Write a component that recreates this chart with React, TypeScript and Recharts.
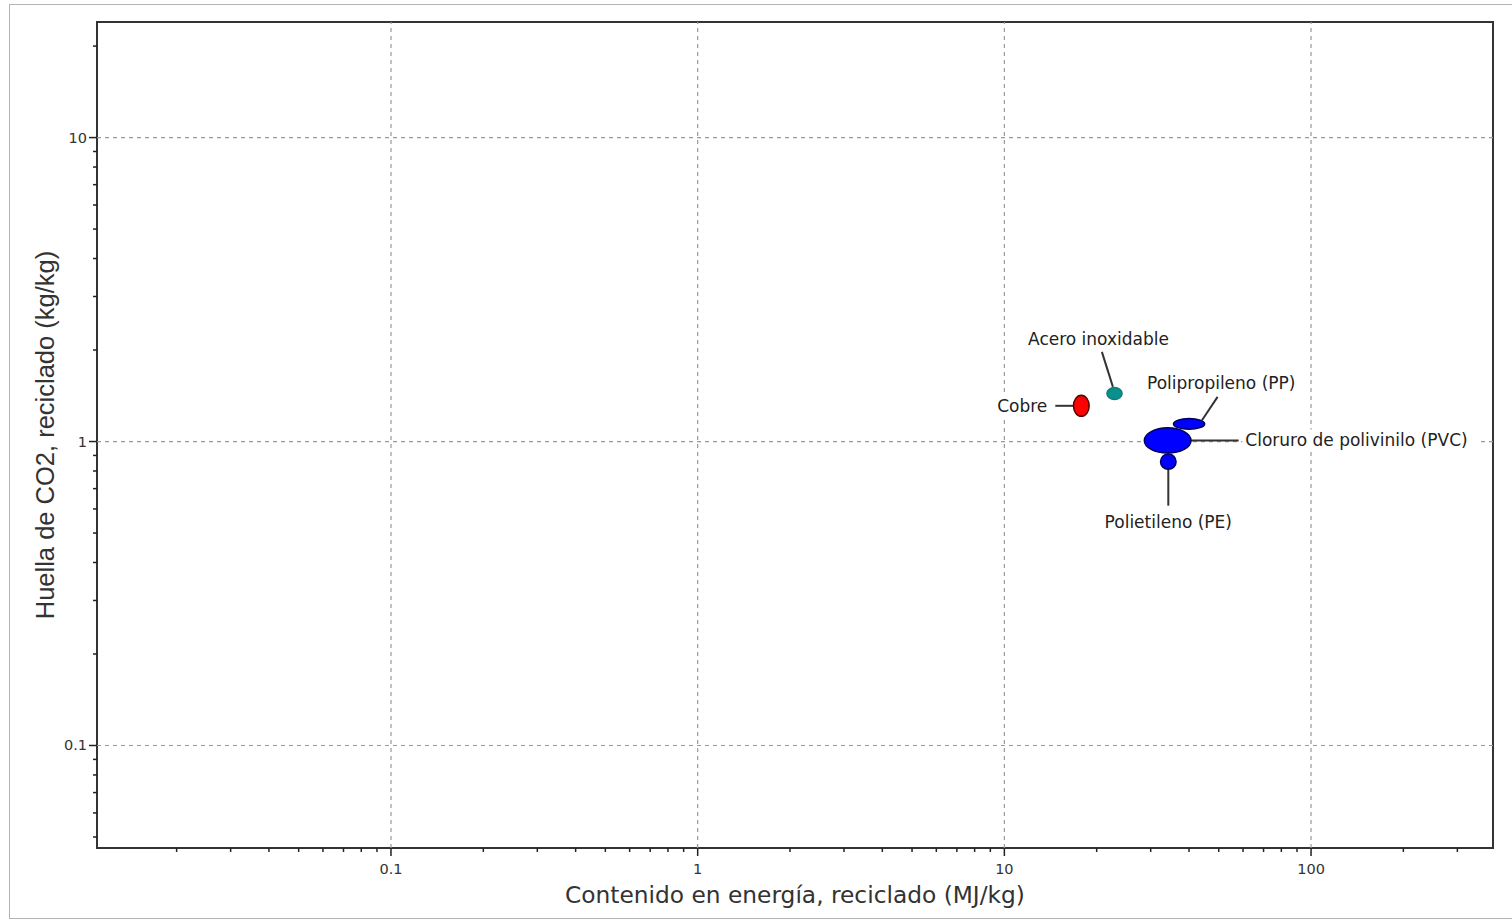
import { ScatterChart, Scatter, XAxis, YAxis, ReferenceLine, ReferenceArea, Label } from 'recharts'

// Materials and their ranges (ellipses span low..high on both axes)
const materials = ['Cobre', 'Acero inoxidable', 'Polipropileno (PP)', 'Cloruro de polivinilo (PVC)', 'Polietileno (PE)']
const energyLow = [16.8, 21.6, 35.6, 28.6, 32.3]
const energyHigh = [18.9, 24.2, 45.0, 40.6, 36.3]
const co2Low = [1.21, 1.375, 1.098, 0.916, 0.81]
const co2High = [1.42, 1.505, 1.19, 1.109, 0.91]

const xTicks = [
  0.02, 0.03, 0.04, 0.05, 0.06, 0.07, 0.08, 0.09,
  0.1, 0.2, 0.3, 0.4, 0.5, 0.6, 0.7, 0.8, 0.9,
  1, 2, 3, 4, 5, 6, 7, 8, 9,
  10, 20, 30, 40, 50, 60, 70, 80, 90,
  100, 200, 300,
]
const yTicks = [
  0.05, 0.06, 0.07, 0.08, 0.09,
  0.1, 0.2, 0.3, 0.4, 0.5, 0.6, 0.7, 0.8, 0.9,
  1, 2, 3, 4, 5, 6, 7, 8, 9,
  10, 20,
]
const xMajor = [0.1, 1, 10, 100]
const yMajor = [0.1, 1, 10]

const X_DOMAIN: [number, number] = [0.011, 392]
const Y_DOMAIN: [number, number] = [0.046, 24]

const CHART_W = 1494
const CHART_H = 910
const MARGIN = { top: 15, right: 11, bottom: 19, left: 27 }
const Y_AXIS_W = 60
const X_AXIS_H = 50
const PLOT_W = CHART_W - MARGIN.left - MARGIN.right - Y_AXIS_W
const PLOT_H = CHART_H - MARGIN.top - MARGIN.bottom - X_AXIS_H
const PX_PER_DEC_X = PLOT_W / (Math.log10(X_DOMAIN[1]) - Math.log10(X_DOMAIN[0]))
const PX_PER_DEC_Y = PLOT_H / (Math.log10(Y_DOMAIN[1]) - Math.log10(Y_DOMAIN[0]))

// colours + label placement (pixel offsets from the ellipse centre)
const styles: Record<string, any> = {
  'Cobre': { fill: '#ff0000', stroke: '#5a0000', line: [-26, 0, -8, 0], text: [-34, 0], anchor: 'end' },
  'Acero inoxidable': { fill: '#0a8f8c', stroke: '#0a7f7c', line: [-12.6, -41.7, -1.6, -6.7], text: [-16, -55], anchor: 'middle' },
  'Polipropileno (PP)': { fill: '#0000ff', stroke: '#00005a', line: [28.5, -27, 12.9, -3.6], text: [-42, -41], anchor: 'start' },
  'Cloruro de polivinilo (PVC)': { fill: '#0000ff', stroke: '#00005a', line: [16.7, 0, 71, 0], text: [77.7, 0], anchor: 'start' },
  'Polietileno (PE)': { fill: '#0000ff', stroke: '#00005a', line: [0, 7, 0, 44], text: [0, 60], anchor: 'middle' },
}

const data = materials.map((name, i) => ({
  name,
  energy: Math.sqrt(energyLow[i] * energyHigh[i]),
  co2: Math.sqrt(co2Low[i] * co2High[i]),
  eLo: energyLow[i],
  eHi: energyHigh[i],
  cLo: co2Low[i],
  cHi: co2High[i],
}))

const FONT = '"DejaVu Sans", Verdana, sans-serif'
const LABEL_SIZE = 17

function MaterialShape(props: any) {
  const { cx, cy, payload } = props
  const s = styles[payload.name]
  const rx = ((Math.log10(payload.eHi) - Math.log10(payload.eLo)) / 2) * PX_PER_DEC_X
  const ry = ((Math.log10(payload.cHi) - Math.log10(payload.cLo)) / 2) * PX_PER_DEC_Y
  const [x1, y1, x2, y2] = s.line
  // rough text width so the label gets a white backing like the original
  const w = payload.name.length * LABEL_SIZE * 0.5
  const tx = cx + s.text[0]
  const ty = cy + s.text[1]
  const bx = s.anchor === 'start' ? tx - 3 : s.anchor === 'end' ? tx - w - 3 : tx - w / 2 - 3
  return (
    <g>
      <rect x={bx} y={ty - 11} width={w + 6} height={22} fill="#fff" />
      <line x1={cx + x1} y1={cy + y1} x2={cx + x2} y2={cy + y2} stroke="#333" strokeWidth={2} />
      <ellipse cx={cx} cy={cy} rx={rx} ry={ry} fill={s.fill} stroke={s.stroke} strokeWidth={1.5} />
      <text
        x={tx}
        y={ty}
        textAnchor={s.anchor}
        dominantBaseline="central"
        fontFamily={FONT}
        fontSize={LABEL_SIZE}
        fill="#222"
      >
        {payload.name}
      </text>
    </g>
  )
}

function XTick({ x, y, payload }: any) {
  const major = xMajor.includes(payload.value)
  return (
    <g>
      <line x1={x} y1={y} x2={x} y2={y + (major ? 8 : 4)} stroke="#222" strokeWidth={1.5} />
      {major && (
        <text x={x} y={y + 21} textAnchor="middle" dominantBaseline="central" fontFamily={FONT} fontSize={14.5} fill="#333">
          {String(payload.value)}
        </text>
      )}
    </g>
  )
}

function YTick({ x, y, payload }: any) {
  const major = yMajor.includes(payload.value)
  return (
    <g>
      <line x1={x} y1={y} x2={x - (major ? 8 : 4)} y2={y} stroke="#222" strokeWidth={1.5} />
      {major && (
        <text x={x - 10} y={y} textAnchor="end" dominantBaseline="central" fontFamily={FONT} fontSize={14.5} fill="#333">
          {String(payload.value)}
        </text>
      )}
    </g>
  )
}

export default function App() {
  return (
    <div>
      <div
        style={{
          position: 'absolute',
          left: 9,
          top: 4,
          width: 1502,
          height: 913,
          borderLeft: '1px solid #b4b4b4',
          borderTop: '1px solid #b4b4b4',
          borderBottom: '1px solid #b4b4b4',
        }}
      />
      <div style={{ position: 'absolute', left: 10, top: 7, width: CHART_W, height: CHART_H }}>
        <ScatterChart width={CHART_W} height={CHART_H} margin={MARGIN}>
          <XAxis
            type="number"
            dataKey="energy"
            scale="log"
            domain={X_DOMAIN}
            allowDataOverflow
            ticks={xTicks}
            interval={0}
            tickSize={0}
            tickMargin={0}
            tick={<XTick />}
            axisLine={false}
            tickLine={false}
            height={X_AXIS_H}
          >
            <Label
              content={({ viewBox }: any) => (
                <text
                  x={viewBox.x + viewBox.width / 2}
                  y={viewBox.y + 46}
                  textAnchor="middle"
                  dominantBaseline="central"
                  fontFamily={FONT}
                  fontSize={23.3}
                  fill="#333"
                >
                  Contenido en energía, reciclado (MJ/kg)
                </text>
              )}
            />
          </XAxis>
          <YAxis
            type="number"
            dataKey="co2"
            scale="log"
            domain={Y_DOMAIN}
            allowDataOverflow
            ticks={yTicks}
            interval={0}
            tickSize={0}
            tickMargin={0}
            tick={<YTick />}
            axisLine={false}
            tickLine={false}
            width={Y_AXIS_W}
          >
            <Label
              content={({ viewBox }: any) => {
                const lx = viewBox.x + 8
                const ly = viewBox.y + viewBox.height / 2
                return (
                  <text
                    x={lx}
                    y={ly}
                    transform={`rotate(-90, ${lx}, ${ly})`}
                    textAnchor="middle"
                    dominantBaseline="central"
                    fontFamily='"Liberation Sans", Arial, sans-serif'
                    fontSize={25.5}
                    fill="#333"
                  >
                    Huella de CO2, reciclado (kg/kg)
                  </text>
                )
              }}
            />
          </YAxis>
          {xMajor.map((v) => (
            <ReferenceLine key={'x' + v} x={v} stroke="#999" strokeWidth={1.2} strokeDasharray="4 4" />
          ))}
          {yMajor.map((v) => (
            <ReferenceLine key={'y' + v} y={v} stroke="#999" strokeWidth={1.2} strokeDasharray="4 4" />
          ))}
          <ReferenceArea
            x1={X_DOMAIN[0]}
            x2={X_DOMAIN[1]}
            y1={Y_DOMAIN[0]}
            y2={Y_DOMAIN[1]}
            fill="none"
            fillOpacity={0}
            stroke="#333"
            strokeWidth={2}
          />
          <Scatter data={data} shape={<MaterialShape />} isAnimationActive={false} />
        </ScatterChart>
      </div>
    </div>
  )
}
